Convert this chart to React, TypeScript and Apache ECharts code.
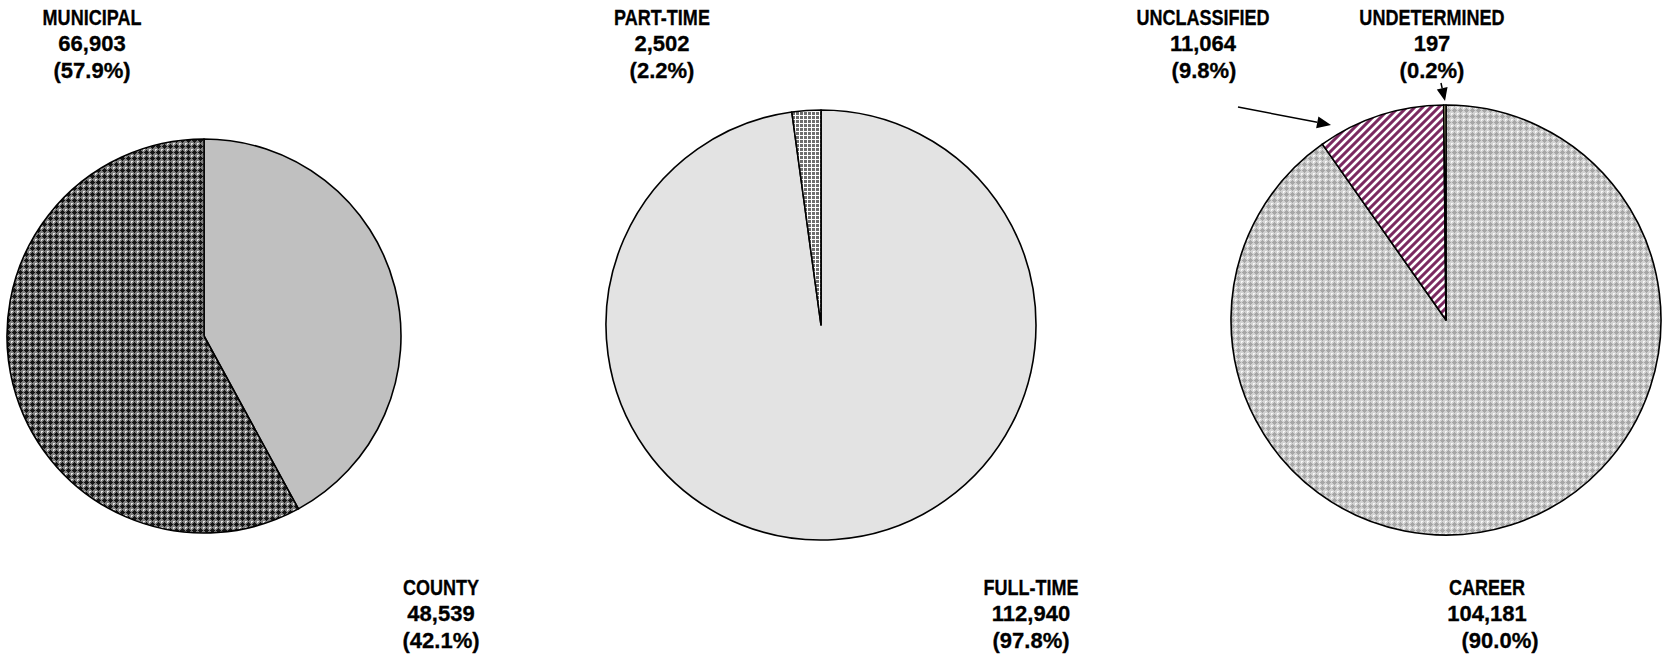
import React, { useEffect, useRef } from "react";
import * as echarts from "echarts";

// ---- data ----
const agencyNames = ["COUNTY", "MUNICIPAL"];
const agencyValues = [48539, 66903];
const agencyPercents = ["(42.1%)", "(57.9%)"];

const statusNames = ["FULL-TIME", "PART-TIME"];
const statusValues = [112940, 2502];
const statusPercents = ["(97.8%)", "(2.2%)"];

const classNames = ["CAREER", "UNCLASSIFIED", "UNDETERMINED"];
const classValues = [104181, 11064, 197];
const classPercents = ["(90.0%)", "(9.8%)", "(0.2%)"];

// ---- layout (positions of label blocks: x per line, first line y) ----
const agencyLabelPos = [
  { xs: [441, 441, 441], y: 587 },
  { xs: [92, 92, 92], y: 17 },
];
const statusLabelPos = [
  { xs: [1031, 1031, 1031], y: 587 },
  { xs: [662, 662, 662], y: 17 },
];
const classLabelPos = [
  { xs: [1487, 1487, 1500], y: 587 },
  { xs: [1203, 1203, 1204], y: 17 },
  { xs: [1432, 1432, 1432], y: 17 },
];

function pixelTile(rows: string[], palette: Record<string, string>) {
  const h = rows.length;
  const w = rows[0].length;
  const c = document.createElement("canvas");
  c.width = w;
  c.height = h;
  const ctx = c.getContext("2d")!;
  for (let y = 0; y < h; y++) {
    for (let x = 0; x < w; x++) {
      ctx.fillStyle = palette[rows[y][x]];
      ctx.fillRect(x, y, 1, 1);
    }
  }
  return c;
}

function stripeTile(period: number, width: number, color: string, edge: string) {
  const c = document.createElement("canvas");
  c.width = period;
  c.height = period;
  const ctx = c.getContext("2d")!;
  for (let y = 0; y < period; y++) {
    for (let x = 0; x < period; x++) {
      const k = (x + y) % period;
      ctx.fillStyle = k < width ? color : k === width || k === period - 1 ? edge : "#ffffff";
      ctx.fillRect(x, y, 1, 1);
    }
  }
  return c;
}

function pattern(canvas: HTMLCanvasElement) {
  return {
    image: canvas,
    repeat: "repeat",
    imageWidth: canvas.width,
    imageHeight: canvas.height,
  } as any;
}

function arrow(x1: number, y1: number, x2: number, y2: number, len: number, half: number) {
  const dx = x2 - x1;
  const dy = y2 - y1;
  const L = Math.sqrt(dx * dx + dy * dy);
  const ux = dx / L;
  const uy = dy / L;
  const bx = x2 - ux * len;
  const by = y2 - uy * len;
  const px = -uy;
  const py = ux;
  return [
    {
      type: "line",
      shape: { x1, y1, x2: bx, y2: by },
      style: { stroke: "#000", lineWidth: 1.5 },
      silent: true,
    },
    {
      type: "polygon",
      shape: {
        points: [
          [x2, y2],
          [bx + px * half, by + py * half],
          [bx - px * half, by - py * half],
        ],
      },
      style: { fill: "#000" },
      silent: true,
    },
  ];
}

const FONT = 'bold 22px "Liberation Sans", Arial, Helvetica, sans-serif';
const LINE_GAP = 26.5;

function labelBlock(name: string, value: number, pct: string, pos: { xs: number[]; y: number }) {
  const lines = [name, value.toLocaleString("en-US"), pct];
  return lines.map((t, i) => ({
    type: "text",
    x: pos.xs[i],
    y: pos.y + i * LINE_GAP,
    scaleX: i === 0 ? 0.82 : 1,
    silent: true,
    style: {
      text: t,
      fill: "#000",
      stroke: "#000",
      lineWidth: 0.3,
      font: FONT,
      align: "center",
      verticalAlign: "middle",
      textAlign: "center",
      textVerticalAlign: "middle",
    },
  }));
}

const CROSS_TILE = ["ggKggw", "gKKKgg", "KKKKKg", "gKKKgg", "ggKggg", "wggggw"];

export default function App() {
  const ref = useRef<HTMLDivElement>(null);

  useEffect(() => {
    if (!ref.current) return;
    const chart = echarts.init(ref.current, null, { renderer: "svg" });

    const darkCross = pixelTile(CROSS_TILE, { g: "#7e7e7e", K: "#151515", w: "#e6e6e6" });
    const lightCross = pixelTile(CROSS_TILE, { g: "#d2d2d2", K: "#a6a6a6", w: "#f8f8f8" });
    const grid = pixelTile(["gggw", "gggw", "gggw", "wwww"], { g: "#6e6e6e", w: "#ffffff" });
    const stripes = stripeTile(8, 3, "#7a2a61", "#b07a9e");

    const agencyColors = ["#c0c0c0", pattern(darkCross)];
    const statusColors = ["#e3e3e3", pattern(grid)];
    const classColors = [pattern(lightCross), pattern(stripes), "#ece6a8"];

    const base = {
      type: "pie",
      startAngle: 90,
      clockwise: true,
      silent: true,
      avoidLabelOverlap: false,
      label: { show: false },
      labelLine: { show: false },
      emphasis: { disabled: true },
      itemStyle: { borderColor: "#000", borderWidth: 1.6 },
    };

    const mk = (names: string[], values: number[], colors: any[]) =>
      names.map((n, i) => ({ name: n, value: values[i], itemStyle: { color: colors[i] } }));

    const graphics: any[] = [];
    agencyNames.forEach((n, i) =>
      graphics.push(...labelBlock(n, agencyValues[i], agencyPercents[i], agencyLabelPos[i]))
    );
    statusNames.forEach((n, i) =>
      graphics.push(...labelBlock(n, statusValues[i], statusPercents[i], statusLabelPos[i]))
    );
    classNames.forEach((n, i) =>
      graphics.push(...labelBlock(n, classValues[i], classPercents[i], classLabelPos[i]))
    );
    graphics.push(...arrow(1238, 107, 1331, 125, 14, 6));
    graphics.push(...arrow(1441, 83, 1445, 101, 13, 5.5));

    chart.setOption({
      animation: false,
      backgroundColor: "#ffffff",
      series: [
        { ...base, center: [204, 336], radius: 197, data: mk(agencyNames, agencyValues, agencyColors) },
        { ...base, center: [821, 325], radius: 215, data: mk(statusNames, statusValues, statusColors) },
        { ...base, center: [1446, 320], radius: 215, data: mk(classNames, classValues, classColors) },
      ],
      graphic: graphics,
    });

    return () => chart.dispose();
  }, []);

  return (
    <div
      ref={ref}
      style={{ position: "absolute", left: 0, top: 0, width: 1669, height: 661 }}
    />
  );
}
